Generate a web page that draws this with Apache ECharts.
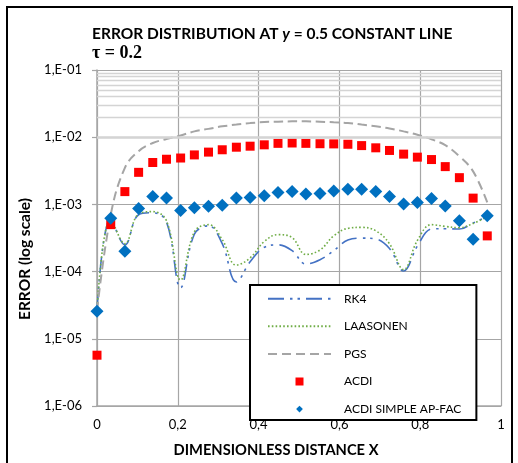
<!DOCTYPE html>
<html>
<head>
<meta charset="utf-8">
<script src="https://cdn.jsdelivr.net/npm/echarts@6/dist/echarts.min.js"></script>
<style>html,body{margin:0;padding:0;background:#fff;}#c{width:518px;height:463px;}</style>
</head>
<body>
<div id="c"></div>
<script>
// x positions (dimensionless distance)
const xValues = [0, 0.034, 0.069, 0.103, 0.138, 0.172, 0.207, 0.241, 0.276, 0.310, 0.345, 0.379, 0.414, 0.448, 0.483, 0.517, 0.552, 0.586, 0.621, 0.655, 0.690, 0.724, 0.759, 0.793, 0.828, 0.862, 0.897, 0.931, 0.966];
const rk4 = [2.6e-5, 6.0e-4, 2.5e-4, 7.0e-4, 7.5e-4, 5.5e-4, 5.8e-5, 3.6e-4, 4.8e-4, 2.6e-4, 7.0e-5, 1.4e-4, 2.3e-4, 2.5e-4, 2.05e-4, 1.3e-4, 1.5e-4, 2.05e-4, 2.95e-4, 3.15e-4, 3.05e-4, 2.2e-4, 1.02e-4, 2.4e-4, 4.3e-4, 4.35e-4, 4.3e-4, 5.3e-4, 6.6e-4];
const laasonen = [2.6e-5, 6.0e-4, 2.6e-4, 7.2e-4, 7.8e-4, 5.7e-4, 7.5e-5, 3.9e-4, 5.0e-4, 3.0e-4, 1.25e-4, 1.6e-4, 2.8e-4, 3.55e-4, 3.2e-4, 1.8e-4, 2.1e-4, 3.4e-4, 4.4e-4, 4.55e-4, 4.05e-4, 2.6e-4, 1.07e-4, 2.9e-4, 5.0e-4, 4.7e-4, 4.5e-4, 5.2e-4, 6.6e-4];
const pgs = [2.6e-5, 7.0e-4, 3.5e-3, 6.2e-3, 8.2e-3, 9.4e-3, 1.06e-2, 1.22e-2, 1.33e-2, 1.45e-2, 1.54e-2, 1.62e-2, 1.68e-2, 1.70e-2, 1.72e-2, 1.72e-2, 1.70e-2, 1.67e-2, 1.63e-2, 1.54e-2, 1.45e-2, 1.35e-2, 1.22e-2, 1.09e-2, 9.3e-3, 7.6e-3, 5.2e-3, 3.1e-3, 1.07e-3];
const acdi = [5.7e-6, 5.0e-4, 1.55e-3, 3.0e-3, 4.2e-3, 4.7e-3, 4.9e-3, 5.45e-3, 6.0e-3, 6.5e-3, 7.1e-3, 7.35e-3, 7.7e-3, 8.1e-3, 8.2e-3, 8.1e-3, 8.0e-3, 7.95e-3, 7.85e-3, 7.5e-3, 6.95e-3, 6.35e-3, 5.6e-3, 5.05e-3, 4.65e-3, 3.65e-3, 2.5e-3, 1.24e-3, 3.4e-4];
const acdiSimple = [2.57e-5, 6.2e-4, 2.0e-4, 8.7e-4, 1.31e-3, 1.24e-3, 8.1e-4, 8.9e-4, 9.4e-4, 9.7e-4, 1.24e-3, 1.27e-3, 1.34e-3, 1.5e-3, 1.55e-3, 1.43e-3, 1.45e-3, 1.58e-3, 1.68e-3, 1.68e-3, 1.55e-3, 1.31e-3, 1.01e-3, 1.07e-3, 1.22e-3, 9.5e-4, 5.7e-4, 3.03e-4, 6.8e-4];
const seriesNames = ['RK4', 'LAASONEN', 'PGS', 'ACDI', 'ACDI SIMPLE AP-FAC'];
const yTickLabels = {'-6': '1,E-06', '-5': '1,E-05', '-4': '1,E-04', '-3': '1,E-03', '-2': '1,E-02', '-1': '1,E-01'};
const xTickLabels = {'0': '0', '0.2': '0,2', '0.4': '0,4', '0.6': '0,6', '0.8': '0,8', '1': '1'};

const pair = arr => arr.map((v, i) => [xValues[i], v]);
// minor log gridlines (2..9 x 10^n)
const minorLines = [];
for (let e = -6; e <= -2; e++) for (let k = 2; k <= 9; k++) minorLines.push({yAxis: k * Math.pow(10, e)});

// legend icons: small centred marker inside a 63x8 box
const squareIcon = 'path://M0,0L0,0M63,8L63,8M27.5,0L35.5,0L35.5,8L27.5,8Z';
const diamondIcon = 'path://M0,0L0,0M63,8L63,8M31.5,0.6L34.9,4L31.5,7.4L28.1,4Z';
const hiddenSym = {color: 'rgba(0,0,0,0)', borderWidth: 0, opacity: 0};

const FONT = 'Lato, "Open Sans", sans-serif';
const chart = echarts.init(document.getElementById('c'), null, {renderer: 'canvas'});
chart.setOption({
  animation: false,
  backgroundColor: '#fff',
  graphic: [{type: 'rect', shape: {x: 7, y: 7, width: 505, height: 462}, style: {fill: 'none', stroke: '#000', lineWidth: 2}, z: 100}],
  title: [{
    text: '{b|ERROR DISTRIBUTION AT }{i|y}{b| = 0.5 CONSTANT LINE}',
    left: 87, top: 21,
    textStyle: {rich: {
      b: {fontFamily: FONT, fontWeight: 'bold', fontSize: 15.5, color: '#000'},
      i: {fontFamily: FONT, fontWeight: 'bold', fontStyle: 'italic', fontSize: 15.5, color: '#000'}
    }}
  }, {
    text: 'τ = 0.2', left: 87, top: 39,
    textStyle: {fontFamily: '"Liberation Serif", serif', fontWeight: 'bold', fontSize: 18, color: '#000'}
  }],
  grid: {left: 97, right: 17, top: 70, bottom: 55},
  legend: {
    orient: 'vertical', left: 250, top: 285,
    data: [
      {name: seriesNames[0], itemStyle: hiddenSym},
      {name: seriesNames[1], itemStyle: hiddenSym},
      {name: seriesNames[2], itemStyle: hiddenSym},
      {name: seriesNames[3], icon: squareIcon},
      {name: seriesNames[4], icon: diamondIcon}
    ],
    itemWidth: 63, itemHeight: 8, itemGap: 15.6,
    padding: [7.7, 15, 5, 17],
    borderColor: '#000', borderWidth: 2, backgroundColor: '#fff',
    textStyle: {fontFamily: FONT, fontSize: 12, color: '#000', padding: [0, 0, 0, 8]},
    z: 50
  },
  xAxis: {
    type: 'value', min: 0, max: 1, interval: 0.2,
    name: 'DIMENSIONLESS DISTANCE X', nameLocation: 'middle', nameGap: 37,
    nameTextStyle: {fontFamily: FONT, fontWeight: 'bold', fontSize: 14.7, color: '#000', padding: [0, 46, 0, 0]},
    axisLine: {show: true, lineStyle: {color: '#a6a6a6', width: 1.5}},
    axisTick: {show: false},
    axisLabel: {fontFamily: FONT, fontSize: 13, color: '#000', margin: 12, formatter: v => xTickLabels[String(Math.round(v * 10) / 10)] ?? String(v).replace('.', ',')},
    splitLine: {show: true, lineStyle: {color: '#a6a6a6', width: 1.2}}
  },
  yAxis: {
    type: 'log', logBase: 10, min: 1e-6, max: 1e-1,
    name: 'ERROR (log scale)', nameLocation: 'middle', nameGap: 60,
    nameTextStyle: {fontFamily: FONT, fontWeight: 'bold', fontSize: 15.5, color: '#000', padding: [0, 0, 0, -42]},
    axisLine: {show: true, lineStyle: {color: '#a6a6a6', width: 1.5}},
    axisTick: {show: true, inside: false, length: 5, lineStyle: {color: '#a6a6a6', width: 1.2}},
    axisLabel: {fontFamily: FONT, fontSize: 13, color: '#000', margin: 15, formatter: v => yTickLabels[String(Math.round(Math.log10(v)))]},
    splitLine: {show: true, lineStyle: {color: '#a6a6a6', width: 1.2}}
  },
  series: [
    {name: '_minor', type: 'line', data: [], z: 1, silent: true,
     markLine: {silent: true, symbol: 'none', label: {show: false}, animation: false,
       lineStyle: {color: '#d4d4d4', width: 1.3, type: 'solid'}, data: minorLines}},
    {name: 'RK4', type: 'line', data: pair(rk4), smooth: 0.4, symbol: 'none', z: 3,
     lineStyle: {color: '#4472c4', width: 1.6, type: [16, 6, 2.5, 5, 2.5, 6]}, itemStyle: {color: '#4472c4'}},
    {name: 'LAASONEN', type: 'line', data: pair(laasonen), smooth: 0.4, symbol: 'none', z: 3,
     lineStyle: {color: '#70ad47', width: 1.6, type: [1.6, 2.2]}, itemStyle: {color: '#70ad47'}},
    {name: 'PGS', type: 'line', data: pair(pgs), smooth: 0.4, symbol: 'none', z: 3,
     lineStyle: {color: '#a5a5a5', width: 2, type: [9, 5]}, itemStyle: {color: '#a5a5a5'}},
    {name: 'ACDI', type: 'scatter', data: pair(acdi), symbol: 'rect', symbolSize: 9, z: 4,
     itemStyle: {color: '#ff0000', opacity: 1}},
    {name: 'ACDI SIMPLE AP-FAC', type: 'scatter', data: pair(acdiSimple), symbol: 'diamond', symbolSize: 13, z: 5,
     itemStyle: {color: '#0070c0', opacity: 1}}
  ]
});
</script>
</body>
</html>
